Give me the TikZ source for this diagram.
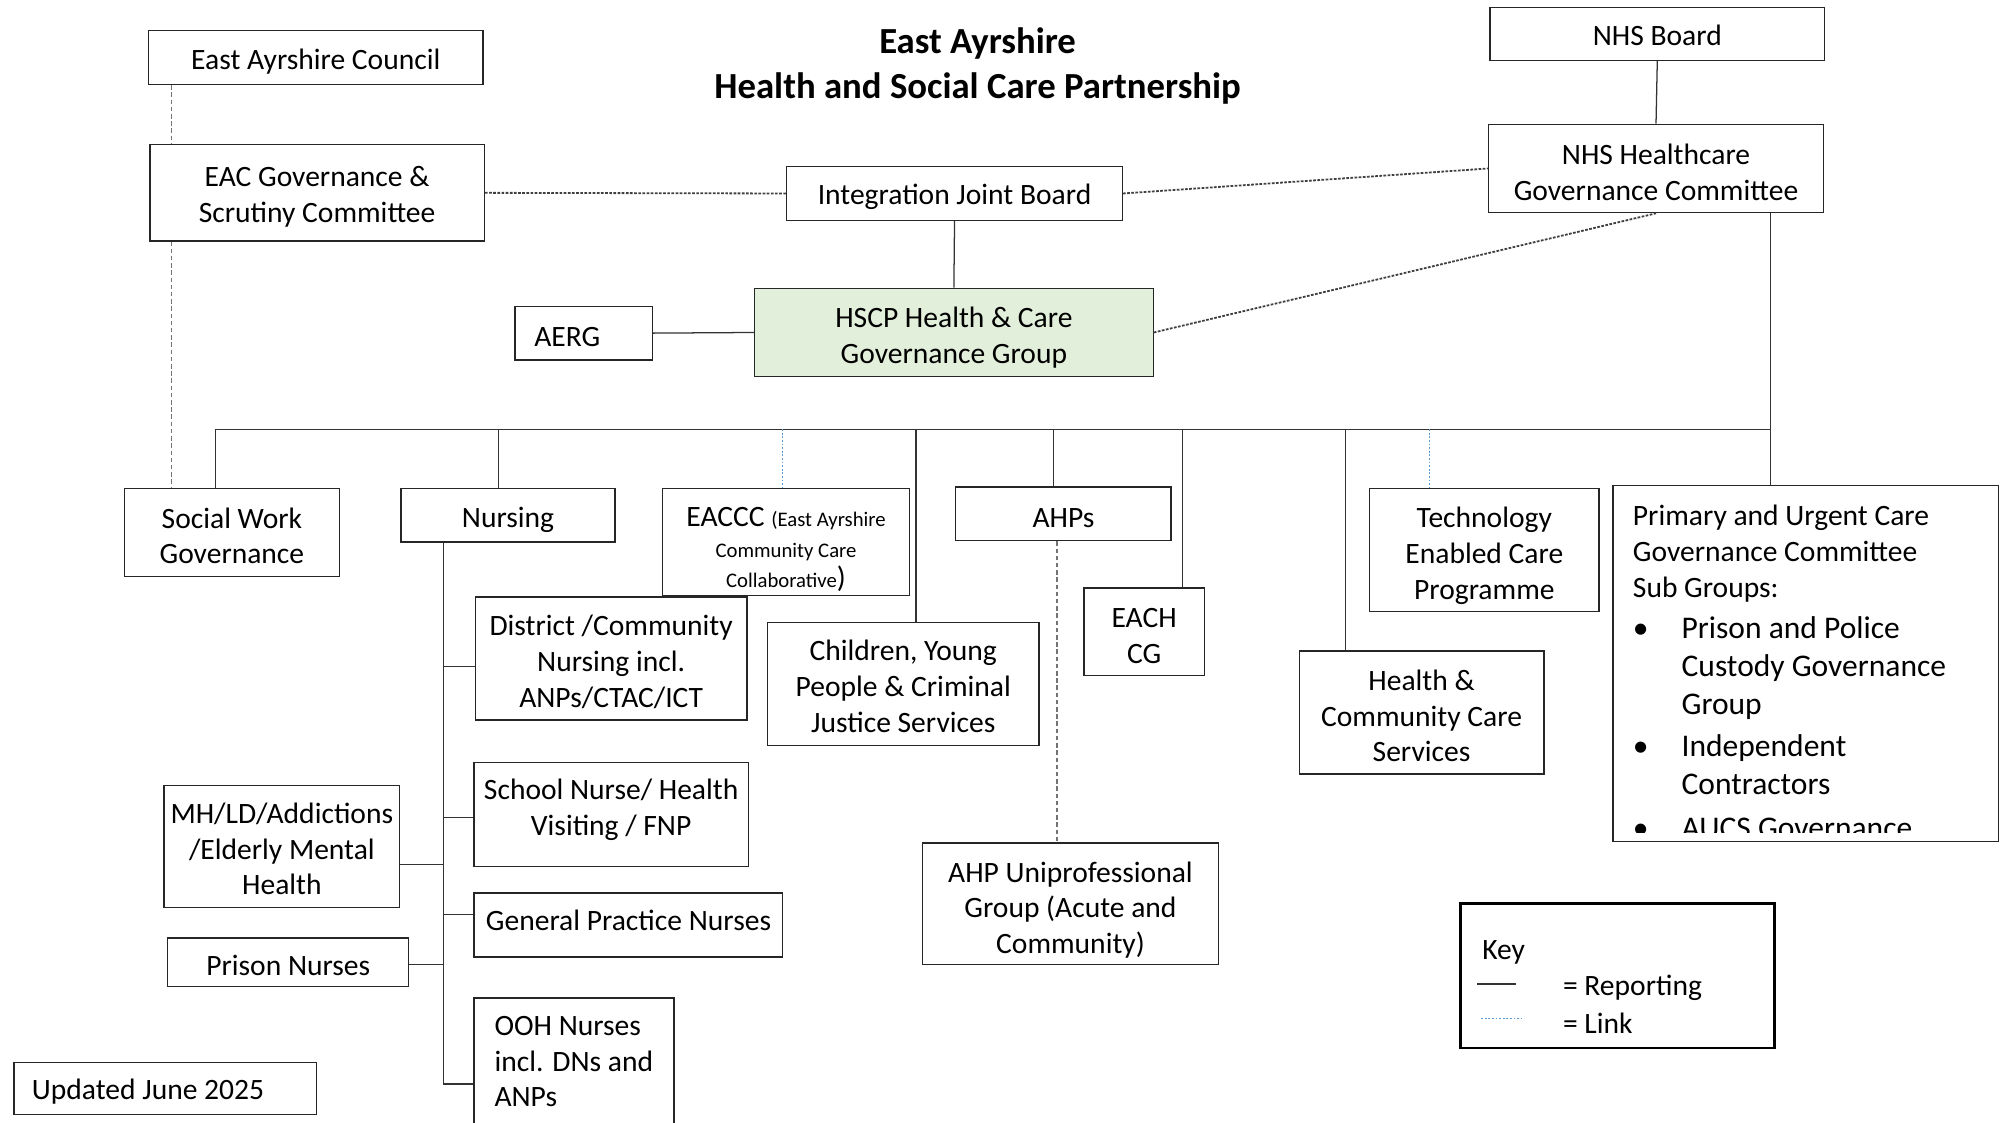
\documentclass[tikz,border=0pt]{standalone}
\usepackage{fontspec}
\setmainfont{Carlito}
\usetikzlibrary{calc}
\definecolor{hscpgreen}{HTML}{E2EFDA}
\definecolor{linkblue}{HTML}{5B9BD5}
\newcommand{\BoxFont}{\fontsize{16.4}{19.8}\selectfont}
\newcommand{\SmallFont}{\fontsize{11.5}{17}\selectfont}
\newcommand{\ItemFont}{\fontsize{17.5}{19.8}\selectfont}
\newcommand{\Bul}{\makebox[0.95cm][l]{\textbullet}}
\newcommand{\Deep}[1]{\rule[-#1]{0pt}{#1}}
\tikzset{
  StrutHt/.store in = \BoxStrutHt,
  BoxStyle/.style = { draw=black!85, line width=0.7pt, rectangle, align=center,
    inner sep=0pt, font=\BoxFont, StrutHt=15.3pt },
  ReportStyle/.style = { draw=black!80, line width=0.7pt },
  LinkStyle/.style = { draw=linkblue, line width=0.6pt, dash pattern=on 1pt off 1pt },
  LiaisonStyle/.style = { draw=black!75, line width=1pt, dash pattern=on 1.5pt off 0.8pt },
  CouncilStyle/.style = { draw=black!55, line width=0.6pt, dash pattern=on 2.5pt off 1.5pt } }
% box from (x1,y1) to (x2,y2), in pixels of the layout
\newcommand{\OrgBox}[7][]{%
  \node[BoxStyle, minimum width={(#5-#3)*0.025cm}, minimum height={(#6-#4)*0.025cm}, #1]
    (#2) at ({(#3+#5)/2},{(#4+#6)/2}) {\rule{0pt}{\BoxStrutHt}#7};}

\begin{document}
\begin{tikzpicture}[x=0.025cm, y=-0.025cm]
  \useasboundingbox (0,0) rectangle (1568,876);
  \node[font=\bfseries\fontsize{20.4}{24.8}\selectfont, align=center] (title) at (763,51.5)
    {East Ayrshire\\Health and Social Care Partnership};
  % top level
  \OrgBox{eac}{116}{24}{377}{66}{East Ayrshire Council}
  \OrgBox{eacgov}{117}{113}{378}{188}{EAC Governance \&\\Scrutiny Committee}
  \OrgBox[StrutHt=13.1pt]{nhsb}{1163}{6}{1424}{47}{NHS Board}
  \OrgBox{nhshc}{1162}{97}{1423}{166}{NHS Healthcare\\Governance Committee}
  \OrgBox{ijb}{614}{130}{876}{172}{Integration Joint Board}
  \OrgBox[align=flush left, text width=1.925cm]{aerg}{402}{239}{509}{281}{AERG}
  \OrgBox[fill=hscpgreen, StrutHt=17.4pt]{hscp}{589}{225}{900}{294}{HSCP Health \& Care\\Governance Group}
  % services
  \OrgBox{swg}{97}{381}{265}{450}{Social Work\\Governance}
  \OrgBox[StrutHt=16.7pt]{nurs}{313}{381}{480}{423}{Nursing}
  \OrgBox[font=\fontsize{16.4}{17}\selectfont, StrutHt=19.1pt]{eaccc}{517}{381}{710}{465}
    {EACCC {\SmallFont(East Ayrshire}\\{\SmallFont Community Care}\\{\SmallFont Collaborative})}
  \OrgBox{ahps}{746}{380}{914}{422}{AHPs}
  \OrgBox[StrutHt=18pt]{tec}{1069}{381}{1248}{477}{Technology\\Enabled Care\\Programme}
  \OrgBox[path picture={
      \clip (path picture bounding box.north west) rectangle ($(path picture bounding box.south east)+(0,-7)$);
      \node[anchor=north west, align=flush left, inner sep=0pt, draw=none, fill=none,
            minimum width=0pt, minimum height=0pt, font=\BoxFont]
        at ($(path picture bounding box.north west)+(15,15)$)
        {Primary and Urgent Care\\Governance Committee\\Sub Groups:\\[2.9pt]
         {\ItemFont\Bul Prison and Police}\\[1.4pt]
         {\ItemFont\hspace*{0.95cm}Custody Governance}\\[1.4pt]
         {\ItemFont\hspace*{0.95cm}Group}\\[3.6pt]
         {\ItemFont\Bul Independent}\\[1.4pt]
         {\ItemFont\hspace*{0.95cm}Contractors}\\[4.5pt]
         {\ItemFont\Bul AUCS Governance}};}]{prim}{1259}{379}{1560}{657}{}
  \OrgBox[StrutHt=15.1pt]{dcn}{371}{466}{583}{562}{District /Community\\Nursing incl.\\ANPs/CTAC/ICT}
  \OrgBox[StrutHt=13.8pt]{cyp}{599}{486}{811}{582}{Children, Young\\People \& Criminal\\Justice Services}
  \OrgBox{each}{846}{459}{940}{527}{EACH\\CG}
  \OrgBox{hccs}{1014}{508}{1205}{604}{Health \&\\Community Care\\Services}
  \OrgBox[StrutHt=14.4pt]{mhld}{128}{613}{312}{708}{MH/LD/Addictions\\/Elderly Mental\\Health}
  \OrgBox{snhv}{370}{595}{584}{676}{School Nurse/ Health\\Visiting / FNP\Deep{12pt}}
  \OrgBox{gpn}{370}{697}{611}{747}{General Practice Nurses\Deep{9.2pt}}
  \OrgBox{prn}{131}{732}{319}{770}{Prison Nurses}
  \OrgBox[align=flush left, text width=3.1cm, StrutHt=0pt]{ooh}{370}{779}{526}{878}{OOH Nurses\\incl. DNs and\\ANPs}
  \OrgBox[StrutHt=18pt]{ahpu}{720}{658}{951}{753}{AHP Uniprofessional\\Group (Acute and\\Community)}
  \OrgBox[align=flush left, text width=5.2cm]{upd}{11}{829}{247}{870}{Updated June 2025}
  % key
  \OrgBox[draw=black, line width=1.5pt]{key}{1140}{705}{1385}{818}{}
  \node[anchor=west, font=\BoxFont] (keyhead) at ($(key.north west)+(13,39)$) {Key};
  \node[anchor=west, font=\BoxFont] (keyrep) at ($(key.north west)+(76,67)$) {= Reporting};
  \node[anchor=west, font=\BoxFont] (keylink) at ($(key.north west)+(76,95)$) {= Link};
  \coordinate (repA) at (1153,768);
  \coordinate (repB) at (1183,768);
  \coordinate (lnkA) at (1156,795);
  \coordinate (lnkB) at (1188,795);
  \draw[ReportStyle] (repA) -- (repB);
  \draw[LinkStyle] (lnkA) -- (lnkB);
  % links between the boards
  \coordinate (eacline) at (134,0);
  \draw[CouncilStyle] (eac.south -| eacline) -- (eacgov.north -| eacline);
  \draw[CouncilStyle] (eacgov.south -| eacline) -- (swg.north -| eacline);
  \draw[LiaisonStyle] (eacgov.east) -- (ijb.west);
  \draw[LiaisonStyle] (ijb.east) -- (nhshc.west);
  \draw[LiaisonStyle] (hscp.east) -- (nhshc.south);
  \draw[ReportStyle] (nhsb.south) -- (nhshc.north);
  \draw[ReportStyle] (ijb.south) -- (hscp.north);
  \draw[ReportStyle] (aerg.east) -- (hscp.west);
  % bus
  \coordinate (busL) at (168,335);
  \coordinate (busR) at (1382,335);
  \draw[ReportStyle] (nhshc.south -| busR) -- (prim.north -| busR);
  \draw[ReportStyle] (busL) -- (busR);
  \foreach \x/\n in {168/swg, 389/nurs, 715/cyp, 822/ahps, 923/each, 1050/hccs} {
    \coordinate (drop-\n) at (\x,335);
    \draw[ReportStyle] (drop-\n) -- (\n.north -| drop-\n);
  }
  \foreach \x/\n in {611/eaccc, 1116/tec} {
    \coordinate (drop-\n) at (\x,335);
    \draw[LinkStyle] (drop-\n) -- (\n.north -| drop-\n);
  }
  \coordinate (ahpline) at (825,0);
  \draw[CouncilStyle] (ahps.south -| ahpline) -- (ahpu.north -| ahpline);
  % nursing tree
  \foreach \n/\y in {dcn/520, snhv/638, gpn/714, ooh/846} {
    \coordinate (br-\n) at (346,\y);
    \draw[ReportStyle] (br-\n) -- (\n.west |- br-\n);
  }
  \foreach \n/\y in {mhld/675, prn/753} {
    \coordinate (br-\n) at (346,\y);
    \draw[ReportStyle] (br-\n) -- (\n.east |- br-\n);
  }
  \draw[ReportStyle] (nurs.south -| br-ooh) -- (br-ooh);
\end{tikzpicture}
\end{document}
